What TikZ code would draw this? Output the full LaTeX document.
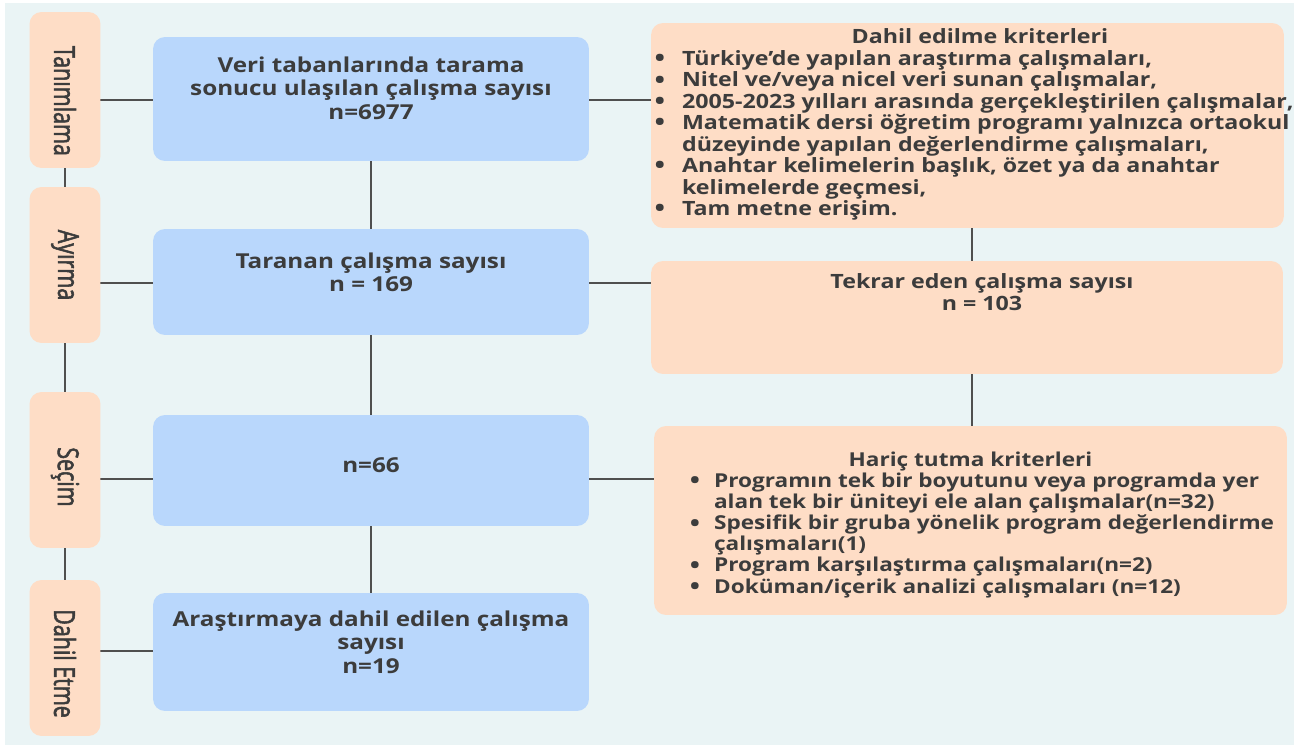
\documentclass[tikz,border=0pt]{standalone}
\usepackage{fontspec}
\setmainfont{Open Sans}
\newfontfamily\stagefont[FakeStretch=0.74,FakeBold=1.8]{Open Sans}
\newfontfamily\wideboldfont[FakeStretch=1.18]{Open Sans Bold}
\usepackage{enumitem}
\usetikzlibrary{backgrounds}

\definecolor{bgcol}{HTML}{EAF4F5}
\definecolor{boxblue}{HTML}{B9D7FC}
\definecolor{boxpeach}{HTML}{FEDDC6}
\definecolor{linegray}{HTML}{4F4F4F}
\definecolor{txtgray}{HTML}{3C3C3C}

% width, height, top gap, content
\newcommand{\inbox}[4]{\makebox[#1][l]{\parbox[c][#2][t]{#1}{\vspace*{#3}#4}}}
\newcommand{\bigbullet}{\raisebox{-0.12ex}{\scalebox{1.2}{\textbullet}}}

\tikzset{
  stage/.style={fill=boxpeach, rounded corners=0.24cm, rotate=-90, minimum width=3.12cm, minimum height=1.42cm, inner sep=0pt, text=txtgray, font=\stagefont\fontsize{16.5}{18}\selectfont},
  flowbox/.style={fill=boxblue, rounded corners=0.24cm, inner sep=0pt, text=txtgray, font=\wideboldfont\fontsize{11.7}{13.2}\selectfont},
  critbox/.style={fill=boxpeach, rounded corners=0.24cm, inner sep=0pt, text=txtgray, font=\wideboldfont\fontsize{11.2}{12.2}\selectfont},
  link/.style={draw, line width=0.9pt, color=linegray}
}

\begin{document}
\begin{tikzpicture}[x=0.02cm,y=-0.02cm]
\useasboundingbox (0,0) rectangle (1301,746);
% stages
\node[stage] (S1) at (65,90) {\hspace*{0.44cm}Tanımlama};
\node[stage] (S2) at (65,265) {Ayırma};
\node[stage] (S3) at (65,470) {\hspace*{0.28cm}Seçim};
\node[stage] (S4) at (65,658) {\hspace*{0.22cm}Dahil Etme};
% main flow
\node[flowbox] (B1) at (371,99) {\inbox{8.72cm}{2.48cm}{0.4cm}{\centering Veri tabanlarında tarama\\ sonucu ulaşılan çalışma sayısı\\ n=6977}};
\node[flowbox] (B2) at (371,282) {\inbox{8.72cm}{2.12cm}{0.48cm}{\centering Taranan çalışma sayısı\\ n = 169}};
\node[flowbox] (B3) at (371,470.5) {\inbox{8.72cm}{2.22cm}{0.85cm}{\centering n=66}};
\node[flowbox] (B4) at (371,652) {\inbox{8.72cm}{2.36cm}{0.36cm}{\centering Araştırmaya dahil edilen çalışma\\ sayısı\\ n=19}};
% criteria
\node[critbox] (K1) at (967.5,125.5) {\inbox{12.66cm}{4.1cm}{0.12cm}{%
  {\centering\leftskip=0.5cm plus 1fil Dahil edilme kriterleri\par}
  \raggedright
  \begin{itemize}[nosep, label=\bigbullet, leftmargin=0.62cm, labelsep=0.34cm, rightmargin=-0.4cm]
  \item Türkiye’de yapılan araştırma çalışmaları,
  \item Nitel ve/veya nicel veri sunan çalışmalar,
  \item 2005-2023 yılları arasında gerçekleştirilen çalışmalar,
  \item Matematik dersi öğretim programı yalnızca ortaokul\\ düzeyinde yapılan değerlendirme çalışmaları,
  \item Anahtar kelimelerin başlık, özet ya da anahtar\\ kelimelerde geçmesi,
  \item Tam metne erişim.
  \end{itemize}}};
\node[critbox] (K2) at (967,317.5) {\inbox{12.64cm}{2.26cm}{0.26cm}{\centering\leftskip=0.6cm plus 1fil Tekrar eden çalışma sayısı\\ n = 103}};
\node[critbox, font=\wideboldfont\fontsize{10.9}{12}\selectfont] (K3) at (970.5,520.5) {\inbox{12.66cm}{3.78cm}{0.52cm}{%
  {\centering Hariç tutma kriterleri\par}
  \raggedright
  \begin{itemize}[nosep, label=\bigbullet, leftmargin=1.2cm, labelsep=0.28cm, rightmargin=-0.4cm]
  \item Programın tek bir boyutunu veya programda yer\\ alan tek bir üniteyi ele alan çalışmalar(n=32)
  \item Spesifik bir gruba yönelik program değerlendirme\\ çalışmaları(1)
  \item Program karşılaştırma çalışmaları(n=2)
  \item Doküman/içerik analizi çalışmaları (n=12)
  \end{itemize}}};
\coordinate (r1) at (0,100);
\coordinate (r2) at (0,283);
\coordinate (r3) at (0,479);
\coordinate (r4) at (0,651);
\coordinate (c1) at (972,0);
\begin{scope}[on background layer]
\fill[white] (0,0) rectangle (1301,746);
\fill[bgcol] (5,3) rectangle (1294,745);
\path[link] (S1.center) -- (S4.center);
\path[link] (B1.center) -- (B4.center);
\path[link] (K1.center -| c1) -- (K3.center -| c1);
\path[link] (S1.center |- r1) -- (K1.center |- r1);
\path[link] (S2.center |- r2) -- (K2.center |- r2);
\path[link] (S3.center |- r3) -- (K3.center |- r3);
\path[link] (S4.center |- r4) -- (B4.center |- r4);
\end{scope}
\end{tikzpicture}
\end{document}
